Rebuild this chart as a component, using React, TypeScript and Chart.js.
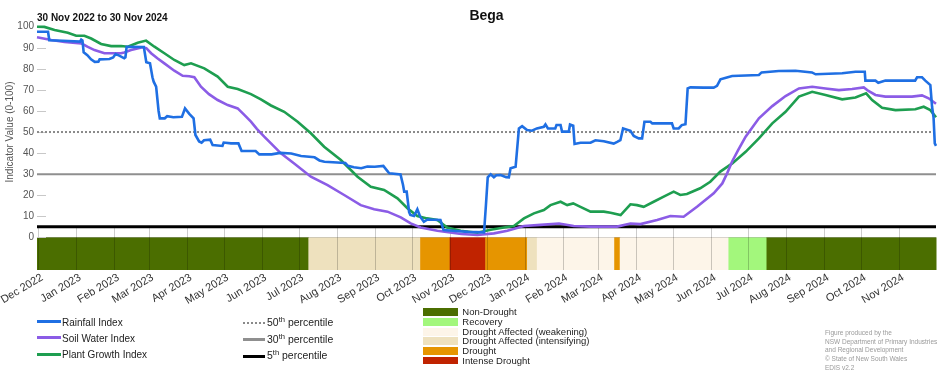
import React, { useEffect, useRef } from "react";
import { Chart, registerables } from "chart.js";

Chart.register(...registerables);

// x values are days counted from 1 Dec 2022 (day 0)
const monthTickDays = [0, 31, 62, 90, 121, 151, 182, 212, 243, 274, 304, 335, 365, 396, 427, 456, 487, 517, 548, 578, 609, 640, 670, 701];
const monthTickLabels = [
  "Dec 2022", "Jan 2023", "Feb 2023", "Mar 2023", "Apr 2023", "May 2023", "Jun 2023", "Jul 2023",
  "Aug 2023", "Sep 2023", "Oct 2023", "Nov 2023", "Dec 2023", "Jan 2024", "Feb 2024", "Mar 2024",
  "Apr 2024", "May 2024", "Jun 2024", "Jul 2024", "Aug 2024", "Sep 2024", "Oct 2024", "Nov 2024",
];
const yTickValues = [0, 10, 20, 30, 40, 50, 60, 70, 80, 90, 100];

const rainfallDays = [
  -1, 8, 9, 20, 34, 35, 36, 37, 40, 43, 46, 49, 50, 58, 61, 63, 66, 70, 71, 72, 86, 88, 91, 93, 94, 96, 98, 99,
  103, 105, 110, 117, 119.5, 123, 126.5, 128, 131, 133, 135, 140, 142, 150, 151, 157, 163, 165.6, 177, 180, 190,
  197, 206, 214, 225, 229, 233, 250, 252, 257, 263, 268, 274, 281, 285, 286, 295, 297, 298, 300, 302, 303, 306,
  308.7, 311, 314, 317, 327.5, 330, 340, 350, 363, 364.5, 366, 368.4, 371, 373, 376.5, 381, 383.2, 384.6, 388.7,
  391.4, 394, 398, 402, 406, 411.7, 413, 415, 421, 422, 425.3, 426.5, 432, 433, 435.6, 436.7, 441.5, 449.7, 453.7,
  460.5, 468.6, 471.4, 474, 476.2, 482.2, 484.9, 489, 491.7, 493.6, 498.5, 500, 516, 517.4, 521.5, 524, 527, 528.8,
  531, 541.8, 550, 552.7, 555.5, 560, 565, 586.8, 589, 603, 616.6, 630, 633, 654.6, 665.4, 673, 673.5, 681.7, 684,
  689.8, 714, 715.6, 719.6, 722.3, 726.4, 727.8, 729, 730, 731,
];
const rainfallValues = [
  97.6, 97.6, 93.6, 93.3, 92.9, 93.9, 93.5, 87.8, 86.5, 84.5, 83.3, 83.4, 84.5, 84.7, 85.4, 87.0, 86.3, 85.0, 85.5, 90.5, 90.4, 83.1, 82.6, 76, 73.9, 71.5, 60, 56.5,
  56.5, 57.5, 57.0, 57.2, 61.2, 58.6, 56.5, 48.6, 45.5, 44.9, 46.1, 46.4, 43.8, 43.4, 45.0, 44.6, 44.6, 41.0, 41.0, 39.4, 39.4,
  40.1, 39.8, 38.6, 38.0, 36.5, 35.9, 35.3, 34.0, 33.3, 32.8, 33.6, 33.5, 33.9, 31.0, 30.4, 29.9, 25, 21.7, 21.7, 12, 10.6, 10.1,
  13.3, 9.8, 7.4, 8.5, 8.2, 3.5, 3.0, 2.6, 2.4, 15, 28.5, 29.9, 28.5, 29.5, 29.6, 28.6, 28.5, 32.8, 33.5,
  51.7, 52.8, 50.9, 50.6, 51.7, 52.5, 53.6, 51.7, 51.7, 53.3, 53.3, 50.2, 50.2, 53.6, 53.0, 44.3, 44.9, 44.9, 46.1,
  45.6, 44.5, 45.3, 46.1, 51.7, 50.6, 48.1, 47.0, 47.0, 54.9, 54.9, 54.1, 54.1, 51.7, 51.7, 53.3, 53.7, 70.7,
  71.2, 71.1, 71.1, 71.9, 75.0, 75.8, 76.6, 77.1, 78.3, 79.0, 79.1, 78.3, 77.4, 77.9, 78.6, 78.6, 74.4, 74.4, 73.4,
  74.4, 74.4, 76.0, 76.0, 74.4, 72.3, 62.0, 57, 44.6, 43.4,
];

const soilWaterDays = [
  -1, 10.6, 21.4, 35, 40, 45.8, 53.9, 67.5, 70, 75.6, 85, 88, 91.9, 97, 102.7, 110.8, 117.6, 123, 127.1, 132.5, 139,
  146.1, 154.3, 162.4, 168, 173.2, 178, 184, 189.5, 197.6, 208.4, 222, 235.6, 249.1, 262.6, 273.5, 284.4, 295.2, 303.3,
  311.4, 325, 344.5, 357.5, 371, 382, 395.5, 409, 424, 436, 449.7, 471.4, 482.2, 490.3, 503.9, 514.7, 525.5, 536.4, 550,
  557, 561, 565, 570, 576, 586.8, 597.7, 608.5, 619.4, 630.2, 641, 651.9, 662.7, 672.2, 676, 681.7, 689.8, 711.5, 719.6,
  725, 731,
];
const soilWaterValues = [
  95.0, 93.7, 92.7, 92.1, 90.5, 88.9, 87.4, 87.4, 87.8, 88.9, 90.2, 89.8, 87.4, 85, 82.6, 79.1, 76.7, 76.5, 76.0, 71.5, 68,
  65.2, 62.8, 61.2, 58, 54.9, 51.5, 47.8, 44.6, 39.9, 35.1, 28.8, 24.8, 20.1, 15.3, 13.3, 12.2, 9.5, 6.6,
  4.7, 3.1, 1.6, 1.1, 1.9, 3.1, 5.4, 5.9, 6.6, 5.4, 5.1, 5.1, 6.6, 6.3, 8.2, 10.1, 9.8, 14.5, 20.9,
  25.6, 30.5, 36.0, 41.5, 47.8, 56.5, 62.3, 67.1, 70.7, 71.5, 70.7, 69.9, 70.4, 71.2, 69.5, 67.6, 66.8, 66.8, 67.4,
  66.0, 63.4,
];

const plantGrowthDays = [
  -1, 5, 13.3, 24.1, 30.9, 37.6, 43.1, 51.2, 59.4, 67.5, 72.9, 81, 87.8, 94.6, 102.7, 110.8, 118.9, 124.4, 135.2, 146.1,
  154.3, 162.4, 173.2, 181.3, 189.5, 200.3, 211.2, 222, 232.8, 246.4, 260, 270.8, 281.6, 292.5, 300.6, 308.7, 316.6, 325,
  333, 344, 357.5, 368.4, 379.2, 387.3, 395.5, 403.6, 411.7, 417.1, 425.3, 430.7, 435.6, 441.5, 449.7, 460.5, 466, 474.2,
  482.2, 487.6, 493, 501.1, 509.3, 517.4, 522.8, 528.2, 539, 547.2, 555.4, 565.1, 576, 586.8, 597.7, 608.5, 619.4, 630.2,
  641, 654.6, 665.4, 674.1, 679, 687.1, 698, 714.2, 721, 726.4, 731,
];
const plantGrowthValues = [
  100, 99.9, 98.4, 97.1, 95.7, 95.7, 94.4, 91.8, 90.8, 90.8, 90.5, 92.4, 93.4, 90.5, 87.4, 84.2, 81.8, 82.6, 80.2, 76.3,
  71.5, 70.4, 68.0, 65.5, 62.6, 59.6, 54.9, 49.4, 43.0, 36.7, 28.8, 24.0, 22.5, 18.5, 13.8, 10.1, 9.0, 8.2,
  4.7, 3.1, 2.2, 3.6, 4.7, 5.4, 9.0, 11.4, 13.0, 15.3, 16.9, 15.3, 16.1, 14.5, 12.2, 12.2, 11.7, 10.6,
  15.7, 15.3, 14.5, 16.9, 19.3, 21.7, 20.1, 20.6, 23.3, 26.4, 31.2, 35.1, 40.6, 47.0, 54.1, 59.6, 66.8, 69.1,
  67.6, 65.5, 66.4, 68.4, 65.2, 61.5, 60.4, 60.8, 62.0, 60.4, 57.0,
];

const percentileValues = [50, 30, 5];
const percentileLabels = ["50", "30", "5"];

const categoryNames = [
  "Non-Drought",
  "Recovery",
  "Drought Affected (weakening)",
  "Drought Affected (intensifying)",
  "Drought",
  "Intense Drought",
];
const categoryColors = ["#4b6e00", "#a3f77c", "#fdf5e9", "#eee1be", "#e69500", "#c02300"];

const droughtStartDays = [-1, 220, 311, 335, 364, 398, 406, 469, 473.5, 562, 593];
const droughtEndDays = [220, 311, 335, 364, 398, 406, 469, 473.5, 562, 593, 731];
const droughtCategory = [0, 3, 4, 5, 4, 3, 2, 4, 2, 1, 0];

const seriesNames = ["Rainfall Index", "Soil Water Index", "Plant Growth Index"];
const seriesColors = ["#1f6fe3", "#8b5ce6", "#1e9e50"];

const FONT = "'Liberation Sans', Arial, sans-serif";
const X_MIN = -1;
const X_MAX = 731;
const Y_MIN = -15.5;
const Y_MAX = 100;

const toPoints = (xs: number[], ys: number[]) => xs.map((x, i) => ({ x, y: ys[i] }));

const decorPlugin = {
  id: "decor",
  beforeDatasetsDraw(chart: any) {
    const { ctx, chartArea, scales } = chart;
    const xs = scales.x;
    const ys = scales.y;
    ctx.save();
    const y0 = ys.getPixelForValue(0);
    const yb = ys.getPixelForValue(Y_MIN);
    droughtStartDays.forEach((s, i) => {
      const xa = xs.getPixelForValue(s);
      const xb = xs.getPixelForValue(droughtEndDays[i]);
      ctx.fillStyle = categoryColors[droughtCategory[i]];
      ctx.fillRect(xa, y0, xb - xa + 0.5, yb - y0);
    });
    ctx.strokeStyle = "rgba(0,0,0,0.15)";
    ctx.lineWidth = 1;
    ctx.beginPath();
    ctx.moveTo(chartArea.left, Math.round(y0) + 0.5);
    ctx.lineTo(chartArea.right, Math.round(y0) + 0.5);
    ctx.stroke();
    const y5 = ys.getPixelForValue(5);
    ctx.strokeStyle = "rgba(0,0,0,0.2)";
    monthTickDays.forEach((d) => {
      const x = Math.round(xs.getPixelForValue(d)) + 0.5;
      ctx.beginPath();
      ctx.moveTo(x, y5);
      ctx.lineTo(x, yb);
      ctx.stroke();
    });
    ctx.strokeStyle = "#c8c8c8";
    yTickValues.forEach((v) => {
      const y = Math.round(ys.getPixelForValue(v)) + 0.5;
      ctx.beginPath();
      ctx.moveTo(chartArea.left, y);
      ctx.lineTo(chartArea.left + 9, y);
      ctx.stroke();
    });
    ctx.restore();
  },
  afterDraw(chart: any) {
    const { ctx, chartArea, scales } = chart;
    ctx.save();
    ctx.fillStyle = "#111";
    ctx.textBaseline = "middle";
    ctx.font = `bold 14px ${FONT}`;
    ctx.textAlign = "center";
    ctx.fillText("Bega", (chartArea.left + chartArea.right) / 2, 16);
    ctx.font = `bold 10px ${FONT}`;
    ctx.textAlign = "left";
    ctx.fillText("30 Nov 2022 to 30 Nov 2024", chartArea.left, 18);
    const yc = (scales.y.getPixelForValue(0) + scales.y.getPixelForValue(100)) / 2;
    ctx.translate(10, yc);
    ctx.rotate(-Math.PI / 2);
    ctx.textAlign = "center";
    ctx.fillStyle = "#555";
    ctx.font = `10px ${FONT}`;
    ctx.fillText("Indicator Value (0-100)", 0, 0);
    ctx.restore();
  },
};

function ChartCanvas() {
  const ref = useRef<HTMLCanvasElement | null>(null);
  useEffect(() => {
    if (!ref.current) return;
    const seriesData = [
      toPoints(rainfallDays, rainfallValues),
      toPoints(soilWaterDays, soilWaterValues),
      toPoints(plantGrowthDays, plantGrowthValues),
    ];
    const percentileStyles = [
      { color: "#8a8a8a", width: 2, dash: [2, 2] },
      { color: "#8f8f8f", width: 2, dash: [] },
      { color: "#000000", width: 3, dash: [] },
    ];
    const datasets: any[] = [];
    percentileValues.forEach((v, i) => {
      datasets.push({
        label: percentileLabels[i] + "th percentile",
        data: [
          { x: X_MIN, y: v },
          { x: X_MAX, y: v },
        ],
        borderColor: percentileStyles[i].color,
        borderWidth: percentileStyles[i].width,
        borderDash: percentileStyles[i].dash,
        pointRadius: 0,
        order: 10,
      });
    });
    [2, 1, 0].forEach((i) => {
      datasets.push({
        label: seriesNames[i],
        data: seriesData[i],
        borderColor: seriesColors[i],
        borderWidth: 2.6,
        pointRadius: 0,
        tension: 0,
        order: i,
        clip: false,
      });
    });
    const chart = new Chart(ref.current, {
      type: "line",
      data: { datasets },
      options: {
        animation: false,
        responsive: false,
        parsing: false as any,
        layout: { padding: { top: 26.7, right: 16, left: 0, bottom: 0 } },
        plugins: { legend: { display: false }, tooltip: { enabled: false }, title: { display: false } },
        scales: {
          x: {
            type: "linear",
            min: X_MIN,
            max: X_MAX,
            afterBuildTicks: (s: any) => {
              s.ticks = monthTickDays.map((v) => ({ value: v }));
            },
            afterFit: (s: any) => {
              s.height = 100;
              s.paddingLeft = 0;
              s.paddingRight = 0;
            },
            grid: { display: false, drawTicks: false },
            border: { display: false },
            ticks: {
              autoSkip: false,
              minRotation: 31,
              maxRotation: 31,
              padding: 1,
              labelOffset: 4,
              color: "#333",
              font: { size: 11, family: FONT },
              callback: (_v: any, i: number) => monthTickLabels[i],
            },
          },
          y: {
            type: "linear",
            min: Y_MIN,
            max: Y_MAX,
            afterBuildTicks: (s: any) => {
              s.ticks = yTickValues.map((v) => ({ value: v }));
            },
            afterFit: (s: any) => {
              s.width = 37;
              s.paddingTop = 0;
              s.paddingBottom = 0;
            },
            grid: { display: false, drawTicks: false },
            border: { display: false },
            ticks: { padding: 3, color: "#555", font: { size: 10, family: FONT } },
          },
        },
      },
      plugins: [decorPlugin],
    });
    return () => chart.destroy();
  }, []);
  return <canvas ref={ref} width={952} height={370} style={{ position: "absolute", left: 0, top: 0 }} />;
}

const rowStyle = (top: number, scaleX: number): React.CSSProperties => ({
  position: "absolute",
  top,
  whiteSpace: "nowrap",
  fontFamily: FONT,
  transform: `scaleX(${scaleX})`,
  transformOrigin: "left center",
});

export default function App() {
  useEffect(() => {
    document.body.style.margin = "0";
  }, []);
  const seriesRowY = [321.7, 337.7, 354.3];
  const pctRowY = [323, 339.7, 356];
  const pctSamples: React.CSSProperties[] = [
    { borderTop: "2px dotted #8a8a8a", height: 0 },
    { background: "#8f8f8f", height: 3 },
    { background: "#000", height: 3 },
  ];
  const catRowY = [312.3, 322, 331.7, 341.3, 351, 360.5];
  const footnote = [
    "Figure produced by the",
    "NSW Department of Primary Industries",
    "and Regional Development",
    "\u00A9 State of New South Wales",
    "EDIS v2.2",
  ];
  return (
    <div style={{ position: "relative", width: 952, height: 370, overflow: "hidden", background: "#fff" }}>
      <ChartCanvas />
      {seriesNames.map((n, i) => (
        <div key={n}>
          <div style={{ position: "absolute", left: 37, top: seriesRowY[i] - 1.5, width: 24, height: 3, background: seriesColors[i] }} />
          <div style={{ ...rowStyle(seriesRowY[i] - 7, 0.91), left: 62, fontSize: 11, color: "#222", lineHeight: "14px" }}>{n}</div>
        </div>
      ))}
      {percentileLabels.map((p, i) => (
        <div key={p}>
          <div style={{ position: "absolute", left: 243, top: pctRowY[i] - 1.5, width: 22, ...pctSamples[i] }} />
          <div style={{ ...rowStyle(pctRowY[i] - 8, 0.95), left: 266.5, fontSize: 11, color: "#222", lineHeight: "14px" }}>
            {p}
            <sup style={{ fontSize: 8, lineHeight: 0, verticalAlign: "4px" }}>th</sup> percentile
          </div>
        </div>
      ))}
      {categoryNames.map((n, i) => (
        <div key={n}>
          <div style={{ position: "absolute", left: 423.3, top: catRowY[i] - 3.9, width: 35, height: 7.8, background: categoryColors[i] }} />
          <div style={{ ...rowStyle(catRowY[i] - 6, 1), left: 462.3, fontSize: 9.5, color: "#222", lineHeight: "12px" }}>{n}</div>
        </div>
      ))}
      {footnote.map((t, i) => (
        <div key={t} style={{ ...rowStyle(329 + i * 8.7, 1), left: 825, fontSize: 6.5, color: "#9a9a9a", lineHeight: "8px" }}>
          {t}
        </div>
      ))}
    </div>
  );
}
